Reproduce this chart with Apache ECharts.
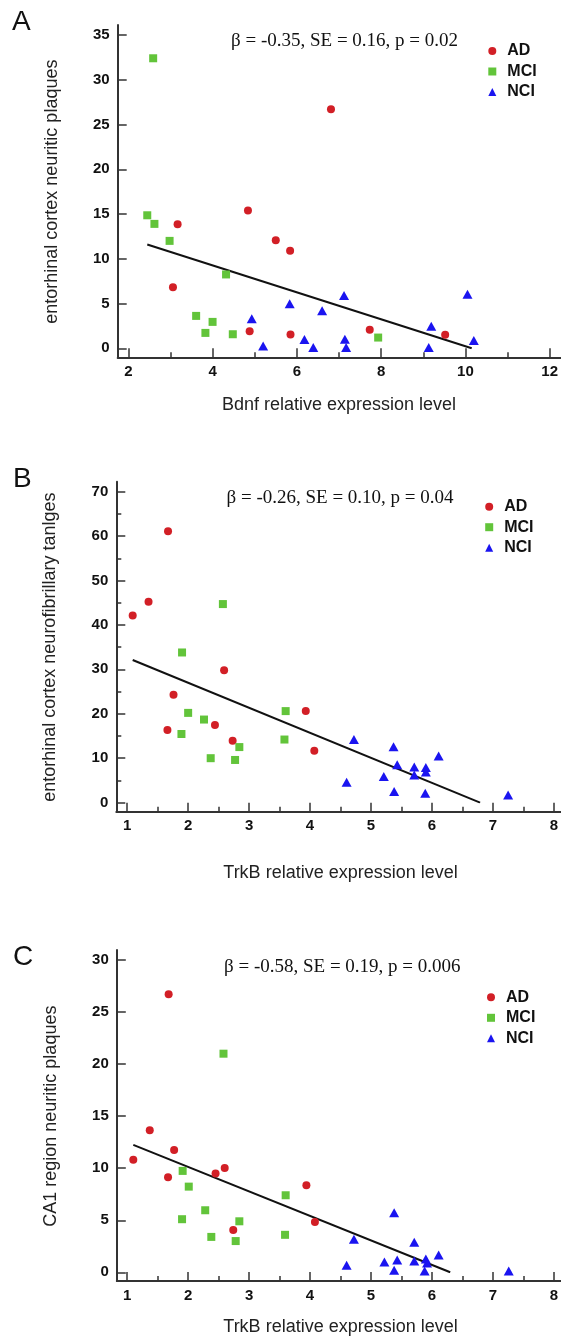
<!DOCTYPE html>
<html>
<head>
<meta charset="utf-8">
<script src="https://cdn.jsdelivr.net/npm/echarts@6/dist/echarts.min.js"></script>
<style>
html,body{margin:0;padding:0;background:#fff;}
#chart{width:561px;height:1341px;}
</style>
</head>
<body>
<div id="chart"></div>
<script>
// ---------- DATA ----------
const groups = ['AD', 'MCI', 'NCI'];
const panelLetters = ['A', 'B', 'C'];
const statTexts = [
  'β = -0.35, SE = 0.16, p = 0.02',
  'β = -0.26, SE = 0.10, p = 0.04',
  'β = -0.58, SE = 0.19, p = 0.006'
];
const xTitles = ['Bdnf relative expression level', 'TrkB relative expression level', 'TrkB relative expression level'];
const yTitles = ['entorhinal cortex neuritic plaques', 'entorhinal cortex neurofibrillary tanlges', 'CA1 region neuritic plaques'];

// Panel A: Bdnf vs entorhinal cortex neuritic plaques
const aAD = [[6.81,26.7],[4.84,15.4],[3.17,13.85],[5.5,12.06],[5.84,10.9],[3.06,6.83],[4.88,1.9],[5.85,1.53],[7.73,2.06],[9.52,1.5]];
const aMCI = [[2.59,32.4],[2.45,14.86],[2.62,13.9],[2.98,12.0],[4.32,8.25],[3.61,3.62],[4.0,2.95],[3.83,1.72],[4.48,1.57],[7.93,1.2]];
const aNCI = [[4.93,3.29],[5.2,0.27],[5.83,4.97],[6.18,0.97],[6.39,0.1],[6.6,4.19],[7.12,5.9],[7.14,1.0],[7.17,0.08],[9.13,0.1],[9.19,2.47],[10.05,6.05],[10.2,0.86]];
const aFit = [[2.45,11.6],[10.15,0]];

// Panel B: TrkB vs entorhinal cortex neurofibrillary tangles
const bAD = [[1.67,61.1],[1.35,45.2],[1.09,42.1],[2.59,29.8],[1.76,24.3],[1.66,16.35],[2.44,17.5],[2.73,13.9],[3.93,20.6],[4.07,11.7]];
const bMCI = [[2.57,44.7],[1.9,33.8],[2.0,20.2],[2.26,18.7],[1.89,15.45],[2.37,10.0],[2.77,9.6],[2.84,12.5],[3.6,20.6],[3.58,14.2]];
const bNCI = [[4.72,14.2],[4.6,4.6],[5.21,5.9],[5.37,12.6],[5.43,8.5],[5.38,2.5],[5.71,8.0],[5.71,6.2],[5.9,7.9],[5.9,6.9],[5.89,2.1],[6.11,10.5],[7.25,1.7]];
const bFit = [[1.09,32.1],[6.79,0]];

// Panel C: TrkB vs CA1 region neuritic plaques
const cAD = [[1.68,26.7],[1.37,13.65],[1.1,10.8],[1.77,11.76],[1.67,9.13],[2.45,9.5],[2.6,10.03],[3.94,8.37],[4.08,4.84],[2.74,4.07]];
const cMCI = [[2.58,21.0],[1.91,9.74],[2.01,8.23],[2.28,5.96],[1.9,5.1],[2.38,3.4],[2.78,3.0],[2.84,4.9],[3.6,7.4],[3.59,3.6]];
const cNCI = [[4.6,0.67],[4.72,3.17],[5.22,0.99],[5.38,5.73],[5.38,0.19],[5.43,1.18],[5.71,2.88],[5.71,1.09],[5.9,1.28],[5.88,0.12],[5.92,0.89],[6.11,1.66],[7.26,0.12]];
const cFit = [[1.1,12.24],[6.3,0]];

// axis ranges [min, max, interval]
const xRanges = [[2,12,2],[1,8,1],[1,8,1]];
const yRanges = [[0,35,5],[0,70,10],[0,30,5]];
const xMinor = [true, true, true];
const yMinor = [false, true, false];

const panelData = [
  [aAD, aMCI, aNCI, aFit],
  [bAD, bMCI, bNCI, bFit],
  [cAD, cMCI, cNCI, cFit]
];

// ---------- LAYOUT / STYLE ----------
const FONT = '"Liberation Sans", Arial, Helvetica, sans-serif';
const SERIF = '"Liberation Serif", "Times New Roman", serif';
const colors = {AD:'#d21f26', MCI:'#62c43a', NCI:'#1a14f0'};
const symbols = {AD:'circle', MCI:'rect', NCI:'triangle'};
const symSize = {AD:8, MCI:8, NCI:[10,9]};
const axisColor = '#333';

const dataGrids = [
  {left:128.3, top:35, width:430.7, height:313.3},
  {left:127.2, top:491.7, width:427.8, height:310.9},
  {left:127.2, top:960, width:429.4, height:312.3}
];
const frameGrids = [
  {left:117.7, top:25, width:443.3, height:332.3},
  {left:116.3, top:481.7, width:444.7, height:330},
  {left:116.8, top:950, width:444.2, height:331}
];
const xOffsets = [9, 9.1, 8.7];
const yOffsets = [10.6, 10.9, 10.4];
const xNameGaps = [39, 52, 37];
const legendPos = [{left:488.3, top:43}, {left:485.2, top:498.7}, {left:487, top:989.3}];
const letterPos = [{left:12, top:8}, {left:13, top:465}, {left:13, top:943}];
const statPos = [{left:231, top:32}, {left:226.5, top:488.5}, {left:224, top:958}];

const grid = [], xAxis = [], yAxis = [], series = [], title = [], legend = [];

for (let p = 0; p < 3; p++) {
  const gi = grid.length;
  grid.push(Object.assign({containLabel:false}, dataGrids[p]));
  grid.push(Object.assign({containLabel:false}, frameGrids[p]));

  xAxis.push({
    type:'value', gridIndex:gi, position:'bottom',
    min:xRanges[p][0], max:xRanges[p][1], interval:xRanges[p][2],
    offset:xOffsets[p],
    axisLine:{show:false, onZero:false},
    axisTick:{show:true, inside:true, length:9, lineStyle:{color:axisColor, width:1.5}},
    minorTick:{show:xMinor[p], splitNumber:2, length:5, lineStyle:{color:axisColor, width:1.5}},
    axisLabel:{color:'#111', fontFamily:FONT, fontWeight:'bold', fontSize:15, margin:7},
    splitLine:{show:false},
    name:xTitles[p], nameLocation:'middle', nameGap:xNameGaps[p],
    nameTextStyle:{fontFamily:FONT, fontSize:18, color:'#222'}
  });
  yAxis.push({
    type:'value', gridIndex:gi, position:'left',
    min:yRanges[p][0], max:yRanges[p][1], interval:yRanges[p][2],
    offset:yOffsets[p],
    axisLine:{show:false, onZero:false},
    axisTick:{show:true, inside:true, length:9, lineStyle:{color:axisColor, width:1.5}},
    minorTick:{show:yMinor[p], splitNumber:2, length:5, lineStyle:{color:axisColor, width:1.5}},
    axisLabel:{color:'#111', fontFamily:FONT, fontWeight:'bold', fontSize:15, margin:8},
    splitLine:{show:false},
    name:yTitles[p], nameLocation:'middle', nameGap:57, nameRotate:90,
    nameTextStyle:{fontFamily:FONT, fontSize:18, color:'#222'}
  });
  xAxis.push({
    type:'value', gridIndex:gi+1, position:'bottom', min:0, max:1,
    axisLine:{show:true, onZero:false, lineStyle:{color:axisColor, width:2}},
    axisTick:{show:false}, axisLabel:{show:false}, splitLine:{show:false}
  });
  yAxis.push({
    type:'value', gridIndex:gi+1, position:'left', min:0, max:1,
    axisLine:{show:true, onZero:false, lineStyle:{color:axisColor, width:2}},
    axisTick:{show:false}, axisLabel:{show:false}, splitLine:{show:false}
  });

  const d = panelData[p];
  series.push({
    type:'line', xAxisIndex:gi, yAxisIndex:gi, data:d[3],
    symbol:'none', lineStyle:{color:'#111', width:2}, silent:true, z:2
  });
  groups.forEach((g, k) => {
    series.push({
      name:g, type:'scatter', xAxisIndex:gi, yAxisIndex:gi, data:d[k],
      symbol:symbols[g], symbolSize:symSize[g],
      itemStyle:{color:colors[g], opacity:1}, z:3
    });
  });

  title.push({text:panelLetters[p], left:letterPos[p].left, top:letterPos[p].top, padding:0,
    textStyle:{fontFamily:FONT, fontSize:28, fontWeight:'normal', color:'#111'}});
  title.push({text:statTexts[p], left:statPos[p].left, top:statPos[p].top, padding:0,
    textStyle:{fontFamily:SERIF, fontSize:19, fontWeight:'normal', color:'#111'}});

  legend.push({
    data:groups, orient:'vertical', left:legendPos[p].left, top:legendPos[p].top,
    padding:0, itemWidth:8, itemHeight:8, itemGap:4.5, selectedMode:false,
    textStyle:{fontFamily:FONT, fontWeight:'bold', fontSize:16, color:'#111', lineHeight:16,
      padding:[0,0,0,6]}
  });
}

const chart = echarts.init(document.getElementById('chart'), null, {renderer:'canvas'});
chart.setOption({
  animation:false,
  backgroundColor:'#fff',
  title, legend, grid, xAxis, yAxis, series
});
</script>
</body>
</html>
